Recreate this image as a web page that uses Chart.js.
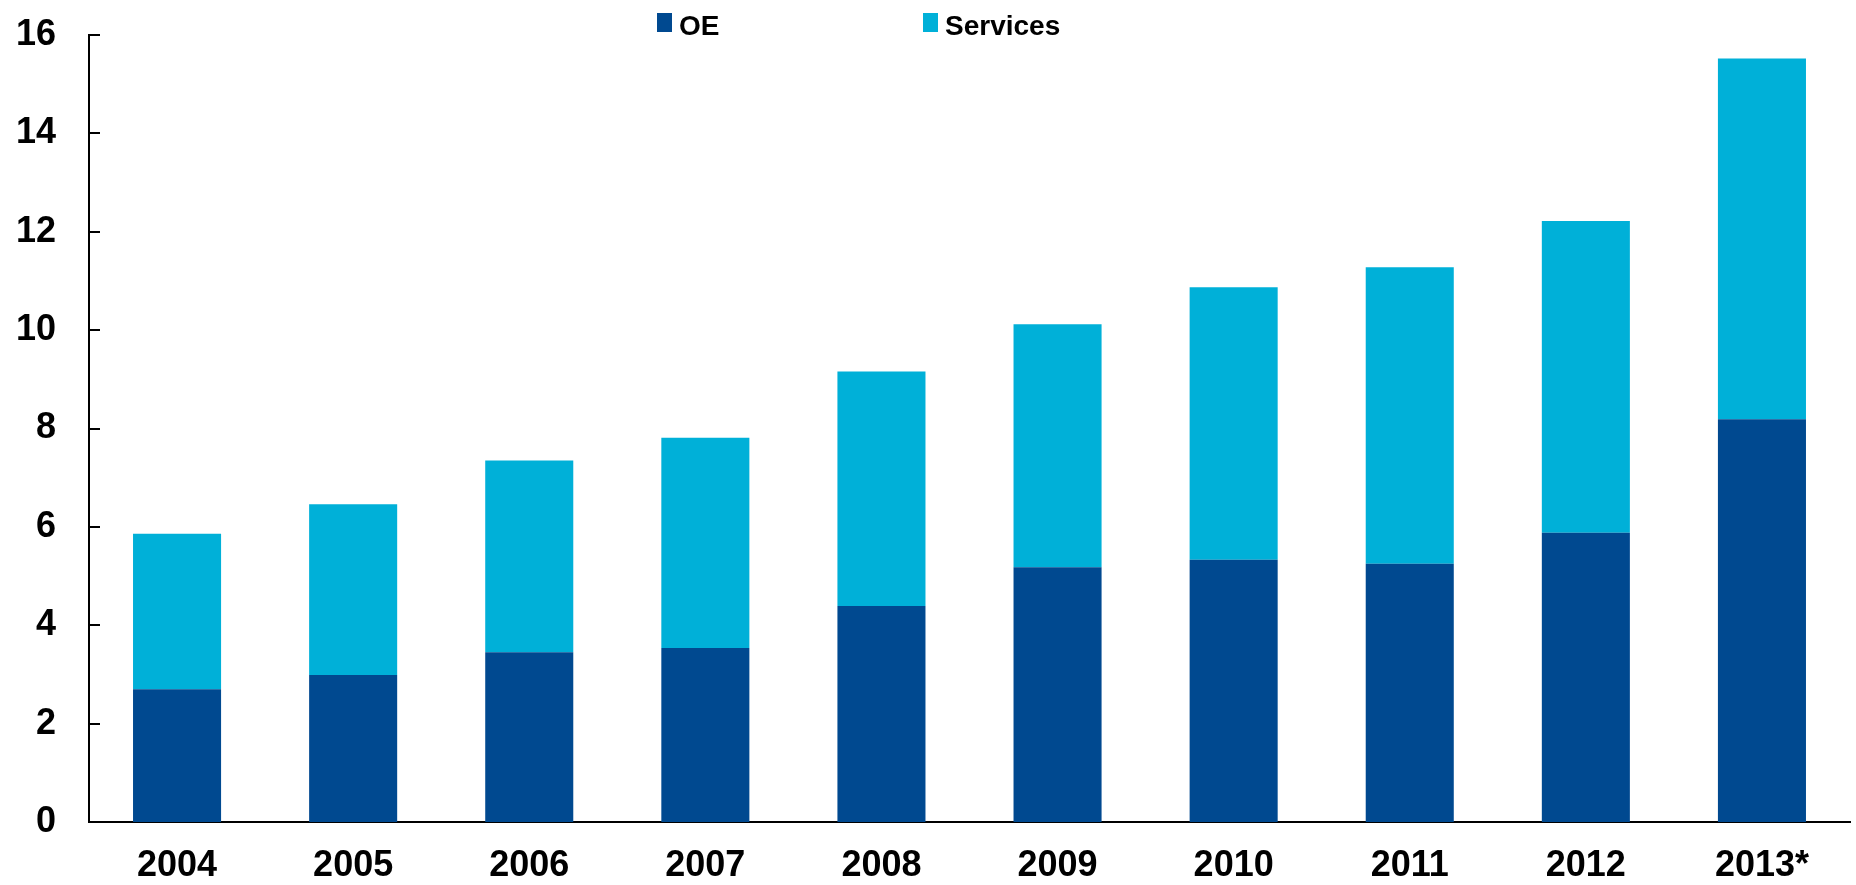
<!DOCTYPE html>
<html>
<head>
<meta charset="utf-8">
<script src="https://cdn.jsdelivr.net/npm/chart.js@4/dist/chart.umd.min.js"></script>
<style>
    html, body { margin: 0; padding: 0; background: #ffffff; overflow: hidden; }
    #box { position: relative; width: 1856px; height: 885px; }
</style>
</head>
<body>
<div id="box"><canvas id="graficoOE"></canvas></div>
<script>
// Data
const anos = ['2004', '2005', '2006', '2007', '2008', '2009', '2010', '2011', '2012', '2013*'];
const valoresOE = [2.70, 2.99, 3.45, 3.54, 4.39, 5.18, 5.33, 5.25, 5.88, 8.19];
const valoresServices = [3.16, 3.47, 3.90, 4.27, 4.77, 4.94, 5.54, 6.03, 6.34, 7.33];
const ticksY = [0, 2, 4, 6, 8, 10, 12, 14, 16];

const COR_OE = '#004990';
const COR_SERVICES = '#00B0D8';
const FONTE = "'Liberation Sans', Arial, sans-serif";

// Inward tick marks on the y axis (Chart.js only draws them outside)
const ticksInternos = {
    id: 'ticksInternos',
    afterDraw(chart) {
        const ctx = chart.ctx;
        const y = chart.scales.y;
        ctx.save();
        ctx.strokeStyle = '#000000';
        ctx.lineWidth = 2;
        ticksY.forEach(v => {
            const py = Math.round(y.getPixelForValue(v));
            ctx.beginPath();
            ctx.moveTo(chart.chartArea.left, py);
            ctx.lineTo(chart.chartArea.left + 11, py);
            ctx.stroke();
        });
        ctx.restore();
    }
};

// Legend drawn at the top, spaced like the original
const legendaTopo = {
    id: 'legendaTopo',
    afterDraw(chart) {
        const ctx = chart.ctx;
        const posicoes = [657, 923];
        ctx.save();
        ctx.font = `bold 28px ${FONTE}`;
        ctx.textBaseline = 'alphabetic';
        chart.data.datasets.forEach((ds, i) => {
            const x = posicoes[i];
            ctx.fillStyle = ds.backgroundColor;
            ctx.fillRect(x, 13, 15, 19);
            ctx.fillStyle = '#000000';
            ctx.fillText(ds.label, x + 22, 35);
        });
        ctx.restore();
    }
};

document.addEventListener('DOMContentLoaded', () => {
    const ctx = document.getElementById('graficoOE');

    new Chart(ctx, {
        type: 'bar',
        data: {
            labels: anos,
            datasets: [
                { label: 'OE', data: valoresOE, backgroundColor: COR_OE, borderWidth: 0 },
                { label: 'Services', data: valoresServices, backgroundColor: COR_SERVICES, borderWidth: 0 }
            ]
        },
        options: {
            responsive: true,
            maintainAspectRatio: false,
            animation: false,
            layout: { padding: { left: 17, right: 6, top: 35, bottom: 0 } },
            plugins: {
                legend: { display: false },
                tooltip: { enabled: false }
            },
            datasets: {
                bar: { categoryPercentage: 1.0, barPercentage: 0.5 }
            },
            scales: {
                x: {
                    stacked: true,
                    afterFit: (scale) => {
                        scale.height = 63;
                        scale.paddingLeft = 0;
                        scale.paddingRight = 0;
                    },
                    grid: { display: false, drawTicks: false },
                    border: { display: true, color: '#000000', width: 2 },
                    ticks: {
                        color: '#000000',
                        padding: 24,
                        maxRotation: 0,
                        font: { family: FONTE, size: 36, weight: 'bold', lineHeight: 1.1 }
                    }
                },
                y: {
                    stacked: true,
                    min: 0,
                    max: 16,
                    afterFit: (scale) => {
                        // tick padding would otherwise push the plot down
                        scale.width = 72;
                        scale.paddingTop = 0;
                        scale.paddingBottom = 0;
                    },
                    afterBuildTicks: (scale) => { scale.ticks = ticksY.map(v => ({ value: v })); },
                    grid: { display: false, drawTicks: false },
                    border: { display: true, color: '#000000', width: 2 },
                    ticks: {
                        color: '#000000',
                        padding: 33,
                        font: { family: FONTE, size: 36, weight: 'bold' }
                    }
                }
            }
        },
        plugins: [ticksInternos, legendaTopo]
    });
});
</script>
</body>
</html>
